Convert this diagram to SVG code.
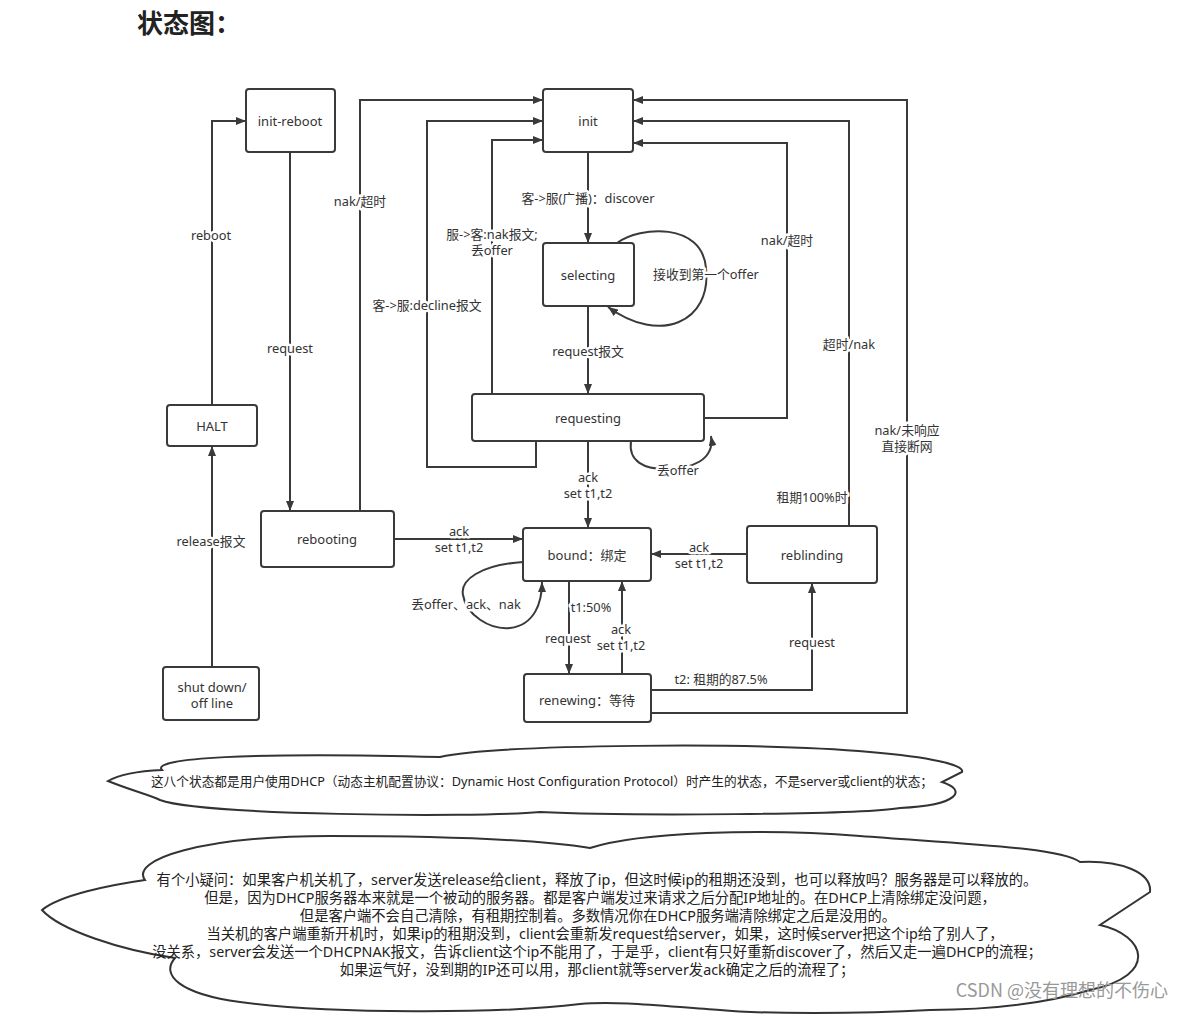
<svg xmlns="http://www.w3.org/2000/svg" width="1183" height="1014" viewBox="0 0 1183 1014">
<style>
.node rect{fill:#fff;stroke:#3a3a3a;stroke-width:2}
.node text{font-family:"Noto Sans","Noto Sans CJK SC",sans-serif;font-size:13px;fill:#333;text-anchor:middle;dominant-baseline:central}
.edges path{fill:none;stroke:#3a3a3a;stroke-width:2}
.lbl{font-family:"Noto Sans","Noto Sans CJK SC",sans-serif;font-size:12.8px;fill:#333;text-anchor:middle;dominant-baseline:central;stroke:#fff;stroke-width:5;paint-order:stroke;stroke-linejoin:round}
.cloud path{fill:#fff;stroke:#333;stroke-width:2}
.ctext{font-family:"Noto Sans","Noto Sans CJK SC",sans-serif;fill:#222;text-anchor:middle;dominant-baseline:central}
</style>
<defs>
<marker id="ah" markerWidth="10" markerHeight="8" refX="10" refY="4" orient="auto" markerUnits="userSpaceOnUse">
<path d="M0,0 L10,4 L0,8 z" fill="#3a3a3a"/>
</marker>
</defs>
<rect width="1183" height="1014" fill="#fff"/>
<text x="137" y="33" font-family="Noto Sans CJK SC,sans-serif" font-size="26" font-weight="bold" fill="#222">状态图：</text>

<g class="edges" id="connectors">
<path d="M212,405 V121 H246" marker-end="url(#ah)"/>
<path d="M290,152 V511" marker-end="url(#ah)"/>
<path d="M212,667 V446" marker-end="url(#ah)"/>
<path d="M360,511 V100 H543" marker-end="url(#ah)"/>
<path d="M536,441 V467 H427 V121 H543" marker-end="url(#ah)"/>
<path d="M492,394 V140 H543" marker-end="url(#ah)"/>
<path d="M588,152 V243" marker-end="url(#ah)"/>
<path d="M617,243 C640,226 702,222 706,268 C712,322 660,345 608,307" marker-end="url(#ah)"/>
<path d="M588,306 V394" marker-end="url(#ah)"/>
<path d="M704,418 H787 V143 H633" marker-end="url(#ah)"/>
<path d="M849,526 V121 H633" marker-end="url(#ah)"/>
<path d="M651,713 H907 V100 H633" marker-end="url(#ah)"/>
<path d="M631,441 C628,462 645,469 665,469 C692,469 715,460 711,436" marker-end="url(#ah)"/>
<path d="M588,441 V528" marker-end="url(#ah)"/>
<path d="M394,539 H523" marker-end="url(#ah)"/>
<path d="M747,554 H651" marker-end="url(#ah)"/>
<path d="M523,562 C480,565 460,580 463,595 C466,615 490,630 510,628 C535,625 542,602 542,582" marker-end="url(#ah)"/>
<path d="M569,581 V674" marker-end="url(#ah)"/>
<path d="M622,674 V581" marker-end="url(#ah)"/>
<path d="M651,690 H812 V583" marker-end="url(#ah)"/>
</g>

<g id="labels">
<text class="lbl" x="211" y="235">reboot</text>
<text class="lbl" x="290" y="348">request</text>
<text class="lbl" x="211" y="541">release报文</text>
<text class="lbl" x="360" y="201">nak/超时</text>
<text class="lbl" x="427" y="305">客-&gt;服:decline报文</text>
<text class="lbl" x="492" y="234">服-&gt;客:nak报文;<tspan x="492" dy="16">丢offer</tspan></text>
<text class="lbl" x="588" y="198">客-&gt;服(广播)：discover</text>
<text class="lbl" x="706" y="274">接收到第一个offer</text>
<text class="lbl" x="588" y="351">request报文</text>
<text class="lbl" x="787" y="240">nak/超时</text>
<text class="lbl" x="849" y="344">超时/nak</text>
<text class="lbl" x="907" y="430">nak/未响应<tspan x="907" dy="16">直接断网</tspan></text>
<text class="lbl" x="678" y="470">丢offer</text>
<text class="lbl" x="588" y="477">ack<tspan x="588" dy="16">set t1,t2</tspan></text>
<text class="lbl" x="459" y="531">ack<tspan x="459" dy="16">set t1,t2</tspan></text>
<text class="lbl" x="699" y="547">ack<tspan x="699" dy="16">set t1,t2</tspan></text>
<text class="lbl" x="466" y="604">丢offer、ack、nak</text>
<text class="lbl" x="812" y="497">租期100%时</text>
<text class="lbl" x="591" y="607">t1:50%</text>
<text class="lbl" x="568" y="638">request</text>
<text class="lbl" x="621" y="629">ack<tspan x="621" dy="16">set t1,t2</tspan></text>
<text class="lbl" x="721" y="679">t2: 租期的87.5%</text>
<text class="lbl" x="812" y="642">request</text>
</g>

<g class="node" id="init-reboot"><rect x="246" y="89" width="89" height="63" rx="3"/><text x="290" y="121">init-reboot</text></g>
<g class="node" id="init"><rect x="543" y="89" width="90" height="63" rx="3"/><text x="588" y="121">init</text></g>
<g class="node" id="selecting"><rect x="543" y="243" width="91" height="63" rx="3"/><text x="588" y="275">selecting</text></g>
<g class="node" id="requesting"><rect x="472" y="394" width="232" height="47" rx="3"/><text x="588" y="418">requesting</text></g>
<g class="node" id="halt"><rect x="167" y="405" width="90" height="41" rx="3"/><text x="212" y="426">HALT</text></g>
<g class="node" id="rebooting"><rect x="261" y="511" width="133" height="56" rx="3"/><text x="327" y="539">rebooting</text></g>
<g class="node" id="bound"><rect x="523" y="528" width="128" height="53" rx="3"/><text x="587" y="555">bound：绑定</text></g>
<g class="node" id="reblinding"><rect x="747" y="526" width="130" height="57" rx="3"/><text x="812" y="555">reblinding</text></g>
<g class="node" id="renewing"><rect x="524" y="674" width="127" height="48" rx="3"/><text x="587" y="700">renewing：等待</text></g>
<g class="node" id="shutdown"><rect x="163" y="667" width="96" height="53" rx="3"/><text x="212" y="687">shut down/<tspan x="212" dy="16">off line</tspan></text></g>

<g class="cloud" id="cloud1">
<path d="M108,781 C120,774 140,771 162,770 C150,758 250,752 440,757 C500,744 760,742 870,752 C930,757 965,765 962,772 L942,782 C967,790 960,805 900,808 C860,815 620,816 540,812 C470,818 200,815 160,800 C150,795 130,790 108,781 Z"/>
<text class="ctext" x="542" y="781" font-size="12.7">这八个状态都是用户使用DHCP（动态主机配置协议：Dynamic Host Configuration Protocol）时产生的状态，不是server或client的状态；</text>
</g>

<g class="cloud" id="cloud2">
<path d="M42,910 C60,895 110,885 145,880 C130,860 200,836 330,836 C450,836 540,840 590,848 C640,832 760,828 860,836 C980,845 1060,848 1080,862 C1120,860 1152,872 1150,892 L1100,925 C1145,935 1160,975 1090,990 C1040,1005 980,1010 930,1010 C860,1014 760,1014 720,1010 C680,1008 620,1000 580,1004 C500,1014 330,1014 240,1002 C180,994 160,975 175,958 C120,950 60,930 42,910 Z"/>
<text class="ctext" font-size="14.3" x="597" y="879">有个小疑问：如果客户机关机了，server发送release给client，释放了ip，但这时候ip的租期还没到，也可以释放吗？服务器是可以释放的。<tspan x="600" dy="18">但是，因为DHCP服务器本来就是一个被动的服务器。都是客户端发过来请求之后分配IP地址的。在DHCP上清除绑定没问题，</tspan><tspan x="598" dy="17.5">但是客户端不会自己清除，有租期控制着。多数情况你在DHCP服务端清除绑定之后是没用的。</tspan><tspan x="605" dy="18">当关机的客户端重新开机时，如果ip的租期没到，client会重新发request给server，如果，这时候server把这个ip给了别人了，</tspan><tspan x="597" dy="18">没关系，server会发送一个DHCPNAK报文，告诉client这个ip不能用了，于是乎，client有只好重新discover了，然后又走一遍DHCP的流程；</tspan><tspan x="597" dy="18">如果运气好，没到期的IP还可以用，那client就等server发ack确定之后的流程了；</tspan></text>
</g>
<text x="1168" y="997" text-anchor="end" font-family="Noto Sans CJK SC,sans-serif" font-size="18" fill="#999">CSDN @没有理想的不伤心</text>
</svg>
